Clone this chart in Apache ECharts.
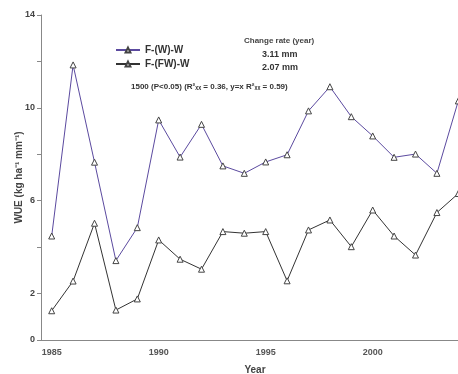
<!DOCTYPE html>
<html>
<head>
<meta charset="utf-8">
<script src="https://cdn.jsdelivr.net/npm/echarts@6/dist/echarts.min.js"></script>
<style>
  html, body { margin: 0; padding: 0; background: #fff; }
  #chart { width: 458px; height: 374px; }
</style>
</head>
<body>
<div id="chart"></div>
<script>
// 数据
const years = ['1985', '1986', '1987', '1988', '1989', '1990', '1991', '1992', '1993', '1994',
  '1995', '1996', '1997', '1998', '1999', '2000', '2001', '2002', '2003', '2004'];
const seriesNames = ['F-(W)-W', 'F-(FW)-W'];
const wueW = [4.48, 11.85, 7.66, 3.42, 4.84, 9.48, 7.88, 9.29, 7.50, 7.18,
  7.67, 7.98, 9.87, 10.91, 9.62, 8.79, 7.87, 8.01, 7.18, 10.3];
const wueFW = [1.26, 2.54, 5.03, 1.29, 1.77, 4.31, 3.48, 3.05, 4.67, 4.60,
  4.67, 2.55, 4.74, 5.17, 4.02, 5.60, 4.48, 3.66, 5.49, 6.31];
const yLabels = [0, 2, 6, 10, 14];
const noteLines = ['Change rate (year)', '3.11 mm', '2.07 mm'];
const statsLine = '1500 (P<0.05) (R²ₓₓ = 0.36, y=x R²ₓₓ = 0.59)';

const chart = echarts.init(document.getElementById('chart'));
const font = 'Liberation Sans Narrow, Liberation Sans, sans-serif';

const option = {
  backgroundColor: '#fff',
  animation: false,
  // 图表右侧被裁掉，网格宽度超出画布
  grid: { left: 41, top: 15, bottom: 34, width: 428, outerBoundsMode: 'none', containLabel: false },
  legend: {
    orient: 'vertical',
    left: 110,
    top: 40,
    itemWidth: 24,
    itemHeight: 6,
    itemGap: 4,
    textStyle: { fontFamily: font, fontSize: 10, fontWeight: 'bold', color: '#333' },
    data: seriesNames
  },
  xAxis: {
    type: 'category',
    data: years,
    boundaryGap: true,
    name: 'Year',
    nameLocation: 'middle',
    nameGap: 25,
    nameMoveOverlap: false,
    nameTextStyle: { fontFamily: font, fontSize: 10, fontWeight: 'bold', color: '#444' },
    axisLine: { lineStyle: { color: '#888' } },
    axisTick: { interval: 0, length: 4, lineStyle: { color: '#888' } },
    axisLabel: { interval: 4, fontFamily: font, fontSize: 9, fontWeight: 'bold', color: '#555', margin: 8 },
    splitLine: { show: false }
  },
  yAxis: {
    type: 'value',
    min: 0,
    max: 14,
    interval: 2,
    name: 'WUE (kg ha⁻¹ mm⁻¹)',
    nameLocation: 'middle',
    nameGap: 17,
    nameMoveOverlap: false,
    nameTextStyle: { fontFamily: font, fontSize: 10, fontWeight: 'bold', color: '#444' },
    axisLine: { show: true, lineStyle: { color: '#888' } },
    axisTick: { show: true, length: 4, lineStyle: { color: '#888' } },
    axisLabel: {
      fontFamily: font, fontSize: 9, fontWeight: 'bold', color: '#444', margin: 6,
      formatter: v => (yLabels.includes(v) ? String(v) : '') // 只显示部分刻度标签
    },
    splitLine: { show: false }
  },
  graphic: [
    { type: 'text', left: 244, top: 37, style: { text: noteLines[0], font: 'bold 8px ' + font, fill: '#444' } },
    { type: 'text', left: 262, top: 50, style: { text: noteLines[1], font: 'bold 9px ' + font, fill: '#333' } },
    { type: 'text', left: 262, top: 63, style: { text: noteLines[2], font: 'bold 9px ' + font, fill: '#333' } },
    { type: 'text', left: 131, top: 83, style: { text: statsLine, font: 'bold 8px ' + font, fill: '#333' } }
  ],
  series: [
    {
      name: seriesNames[0],
      type: 'line',
      data: wueW,
      symbol: 'triangle',
      symbolSize: 6,
      lineStyle: { color: '#5b4a9f', width: 1 },
      itemStyle: { color: '#fff', borderColor: '#444', borderWidth: 1 }
    },
    {
      name: seriesNames[1],
      type: 'line',
      data: wueFW,
      symbol: 'triangle',
      symbolSize: 6,
      lineStyle: { color: '#333', width: 1 },
      itemStyle: { color: '#fff', borderColor: '#444', borderWidth: 1 }
    }
  ]
};

chart.setOption(option);
window.addEventListener('resize', () => chart.resize());
</script>
</body>
</html>
